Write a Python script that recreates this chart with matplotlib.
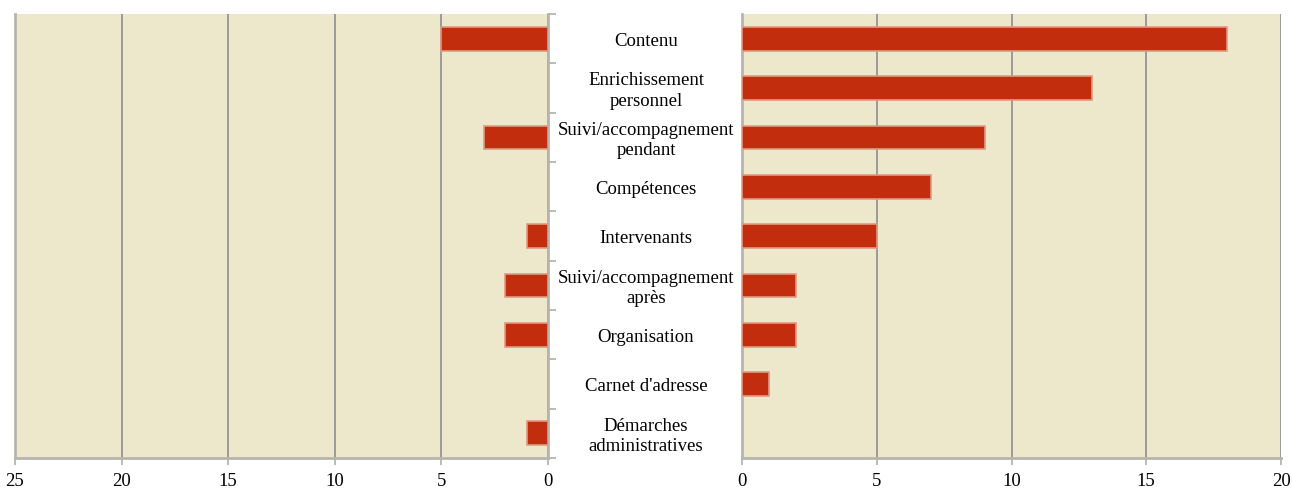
import matplotlib.pyplot as plt
from matplotlib.transforms import blended_transform_factory

categories = ['Contenu', 'Enrichissement\npersonnel', 'Suivi/accompagnement\npendant',
              'Compétences', 'Intervenants', 'Suivi/accompagnement\naprès',
              'Organisation', "Carnet d'adresse", 'Démarches\nadministratives']
left_values = [5, 0, 3, 0, 1, 2, 2, 0, 1]
right_values = [18, 13, 9, 7, 5, 2, 2, 1, 0]

bg = '#EDE7CC'
bar_col = '#C22D0E'
edge_col = '#DE9A82'
grid_col = '#9A9A9A'
spine_col = '#B5B5B0'

plt.rcParams['font.family'] = ['Liberation Serif', 'DejaVu Serif']

fig = plt.figure(figsize=(12.92, 4.92), dpi=100)
ax1 = fig.add_axes([0.0116, 0.0691, 0.4125, 0.9024])
ax2 = fig.add_axes([0.5743, 0.0691, 0.4172, 0.9024])

y = list(range(len(categories)))

for ax, vals in ((ax1, left_values), (ax2, right_values)):
    ax.set_facecolor(bg)
    edges = [edge_col if v > 0 else 'none' for v in vals]
    ax.barh(y, vals, height=0.48, color=bar_col, edgecolor=edges, linewidth=1.2, zorder=3)
    ax.set_ylim(len(categories) - 0.5, -0.5)
    ax.set_xticks([0, 5, 10, 15, 20, 25] if ax is ax1 else [0, 5, 10, 15, 20])
    ax.grid(axis='x', color=grid_col, linewidth=1.4, zorder=1)
    ax.tick_params(axis='x', colors=spine_col, length=5, width=1.3, labelsize=13.5,
                   labelcolor='black', pad=6)
    ax.spines['top'].set_visible(False)
    for s in ('left', 'right', 'bottom'):
        ax.spines[s].set_color(spine_col)
        ax.spines[s].set_linewidth(2)

ax1.set_xlim(25, 0)
ax1.yaxis.tick_right()
ax1.set_yticks([i - 0.5 for i in range(len(categories) + 1)])
ax1.set_yticklabels([])
ax1.tick_params(axis='y', colors=spine_col, length=6, width=1.3)

ax2.set_xlim(0, 20)
ax2.set_yticks([])
ax2.spines['right'].set_visible(False)

tr = blended_transform_factory(fig.transFigure, ax2.transData)
for i, lab in enumerate(categories):
    ax2.text(646 / 1292, i + 0.06, lab, transform=tr, ha='center', va='center',
             fontsize=13.5, linespacing=1.25)

fig.savefig('out.png', dpi=100)
